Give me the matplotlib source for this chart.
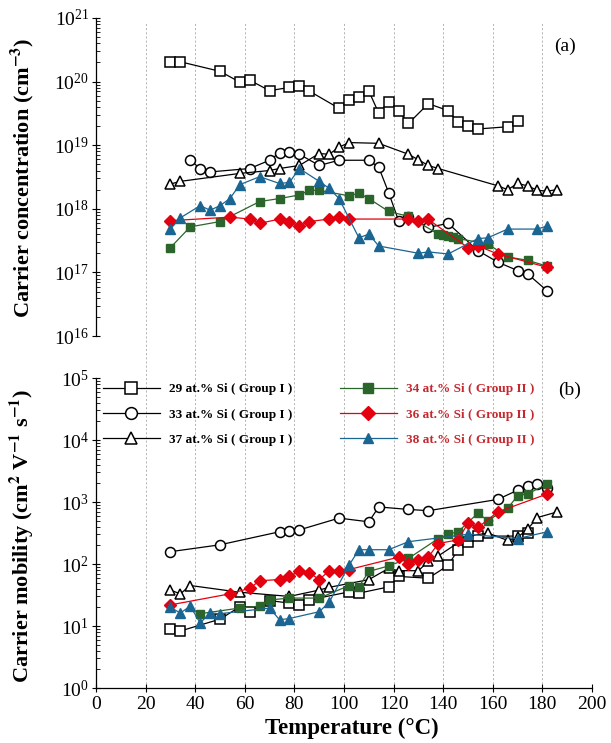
import matplotlib
matplotlib.use("Agg")
import matplotlib.pyplot as plt
from matplotlib.lines import Line2D
from matplotlib.ticker import LogLocator, FixedLocator, NullFormatter

plt.rcParams["font.family"] = ["Liberation Serif", "DejaVu Serif"]
plt.rcParams["mathtext.fontset"] = "stix"

# ---- carrier concentration (cm^-3) vs temperature (C) ----
t_n29 = [30, 34, 50, 58, 62, 70, 78, 82, 86, 98, 102, 106, 110, 114, 118, 122, 126, 134, 142, 146, 150, 154, 166, 170]
n29 = [2.0e20, 2.05e20, 1.45e20, 9.8e19, 1.05e20, 7.2e19, 8.1e19, 8.5e19, 7.1e19, 3.8e19, 5.1e19, 5.8e19,
       7.1e19, 3.2e19, 4.8e19, 3.5e19, 2.2e19, 4.5e19, 3.5e19, 2.3e19, 2.0e19, 1.8e19, 1.95e19, 2.4e19]

t_n33 = [38, 42, 46, 62, 70, 74, 78, 82, 90, 98, 110, 114, 118, 122, 126, 134, 142, 154, 162, 170, 174, 182]
n33 = [5.8e18, 4.3e18, 3.8e18, 4.3e18, 5.8e18, 7.6e18, 7.8e18, 7.2e18, 4.8e18, 5.8e18, 5.8e18, 4.5e18,
       1.8e18, 6.5e17, 7.4e17, 5.1e17, 5.9e17, 2.2e17, 1.45e17, 1.07e17, 9.5e16, 5.1e16]

t_n37 = [30, 34, 58, 70, 74, 82, 90, 94, 98, 102, 114, 126, 130, 134, 138, 162, 166, 170, 174, 178, 182, 186]
n37 = [2.45e18, 2.7e18, 3.6e18, 4.0e18, 4.3e18, 4.8e18, 7.4e18, 7.2e18, 9.3e18, 1.1e19, 1.07e19, 7.2e18,
       5.9e18, 4.8e18, 4.3e18, 2.3e18, 2.0e18, 2.5e18, 2.3e18, 1.95e18, 1.9e18, 2.0e18]

t_n34 = [30, 38, 50, 66, 74, 82, 86, 90, 102, 106, 110, 118, 126, 138, 140, 142, 144, 146, 158, 166, 174, 182]
n34 = [2.45e17, 5.2e17, 6.3e17, 1.3e18, 1.45e18, 1.65e18, 1.95e18, 1.95e18, 1.6e18, 1.75e18, 1.45e18, 9.1e17,
       7.6e17, 4.0e17, 3.9e17, 3.7e17, 3.6e17, 3.4e17, 2.8e17, 1.75e17, 1.55e17, 1.25e17]

t_n36 = [30, 54, 62, 66, 74, 78, 82, 86, 94, 98, 102, 126, 130, 134, 150, 154, 162, 182]
n36 = [6.5e17, 7.4e17, 6.9e17, 5.9e17, 6.9e17, 6.3e17, 5.4e17, 6.3e17, 6.9e17, 7.4e17, 6.9e17, 6.9e17,
       6.5e17, 6.8e17, 2.45e17, 2.6e17, 1.95e17, 1.2e17]

t_n38 = [30, 34, 42, 46, 50, 54, 58, 66, 74, 78, 82, 90, 94, 98, 106, 110, 114, 130, 134, 142, 154, 158, 166, 178, 182]
n38 = [4.8e17, 7.2e17, 1.12e18, 9.5e17, 1.12e18, 1.45e18, 2.4e18, 3.2e18, 2.5e18, 2.6e18, 4.3e18, 2.7e18,
       2.1e18, 1.45e18, 3.5e17, 4.0e17, 2.6e17, 2.0e17, 2.1e17, 1.95e17, 3.4e17, 3.5e17, 4.8e17, 4.8e17, 5.4e17]

# ---- carrier mobility (cm^2 V^-1 s^-1) vs temperature (C) ----
t_m29 = [30, 34, 50, 58, 62, 70, 78, 82, 86, 102, 106, 118, 122, 134, 142, 146, 150, 154, 170, 174]
m29 = [8.9, 8.3, 12.9, 20.4, 17, 25.7, 23.4, 21.9, 26.3, 35.5, 33.9, 42.7, 63, 59, 95, 170, 229, 282, 282, 316]

t_m33 = [30, 50, 74, 78, 82, 98, 110, 114, 126, 134, 162, 170, 174, 178, 182]
m33 = [158, 204, 331, 339, 355, 550, 479, 832, 759, 724, 1100, 1550, 1780, 1950, 1660]

t_m37 = [30, 34, 38, 58, 78, 90, 94, 110, 118, 122, 130, 134, 138, 150, 158, 166, 170, 174, 178, 186]
m37 = [38, 33, 45, 35, 30, 38, 42, 56, 85, 78, 78, 110, 135, 280, 316, 240, 270, 363, 562, 692]

t_m34 = [42, 58, 66, 70, 78, 90, 102, 106, 110, 118, 126, 138, 142, 146, 154, 158, 166, 170, 174, 182]
m34 = [15.8, 19.5, 20.9, 26.3, 28.2, 28.2, 44.7, 42.7, 75.9, 93, 123, 257, 302, 331, 661, 501, 794, 1260, 1350, 1950]

t_m36 = [30, 54, 62, 66, 74, 78, 82, 86, 90, 94, 98, 102, 122, 126, 130, 134, 138, 146, 150, 154, 162, 182]
m36 = [21.9, 33, 40.7, 53.7, 56.2, 63, 77.6, 72.4, 56.2, 77.6, 75.9, 81.3, 129, 100, 115, 129, 214, 245, 457,
       389, 692, 1350]

t_m38 = [30, 34, 38, 42, 46, 50, 70, 74, 78, 90, 94, 102, 106, 110, 118, 126, 150, 170, 182]
m38 = [20, 16.2, 20.9, 11.2, 16.2, 15.8, 19.5, 12.6, 13.2, 17, 24, 95, 170, 170, 170, 229, 302, 257, 331]

labels_g1 = ["29 at.% Si ( Group I )", "33 at.% Si ( Group I )", "37 at.% Si ( Group I )"]
labels_g2 = ["34 at.% Si ( Group II )", "36 at.% Si ( Group II )", "38 at.% Si ( Group II )"]
x_ticks = [0, 20, 40, 60, 80, 100, 120, 140, 160, 180, 200]

green = "#2b652b"
red = "#e3000f"
blue = "#1b6592"
label_red = "#c5282f"

open_kw = dict(color="black", markerfacecolor="white", markeredgecolor="black",
               markeredgewidth=1.1, linewidth=0.9)
styles_g1 = [dict(marker="s", markersize=7, **open_kw),
             dict(marker="o", markersize=7.2, **open_kw),
             dict(marker="^", markersize=7.5, **open_kw)]
styles_g2 = [
    dict(marker="s", color=green, markerfacecolor=green, markeredgecolor=green, linewidth=0.9, markersize=6.3),
    dict(marker="D", color=red, markerfacecolor=red, markeredgecolor=red, linewidth=0.9, markersize=5.8),
    dict(marker="^", color=blue, markerfacecolor=blue, markeredgecolor=blue, linewidth=0.9, markersize=6.8),
]

W, H = 611, 743
fig = plt.figure(figsize=(W / 100, H / 100), dpi=100)

x0, x1 = 96, 592
top_y0, top_y1 = 18, 336
bot_y0, bot_y1 = 378, 688


def frac_box(ya, yb):
    return [x0 / W, 1 - yb / H, (x1 - x0) / W, (yb - ya) / H]


# dashed vertical guides shared by both panels
ax_bg = fig.add_axes(frac_box(22, bot_y1), zorder=0)
ax_bg.set_xlim(0, 200)
ax_bg.set_ylim(0, 1)
ax_bg.axis("off")
for xv in x_ticks[1:]:
    ax_bg.axvline(xv, color="#a8a8a8", linewidth=0.6, linestyle=(0, (2.5, 2.5)))

ax_top = fig.add_axes(frac_box(top_y0, top_y1), zorder=1)
ax_bot = fig.add_axes(frac_box(bot_y0, bot_y1), zorder=1)

for t, v, st in zip([t_n29, t_n33, t_n37], [n29, n33, n37], styles_g1):
    ax_top.plot(t, v, **st)
for t, v, st in zip([t_n34, t_n36, t_n38], [n34, n36, n38], styles_g2):
    ax_top.plot(t, v, **st)

for t, v, st in zip([t_m29, t_m33, t_m37], [m29, m33, m37], styles_g1):
    ax_bot.plot(t, v, **st)
for t, v, st in zip([t_m34, t_m36, t_m38], [m34, m36, m38], styles_g2):
    ax_bot.plot(t, v, **st)

for ax, lo, hi in [(ax_top, 1e16, 1e21), (ax_bot, 1e0, 1e5)]:
    ax.patch.set_alpha(0)
    ax.set_xlim(0, 200)
    ax.set_yscale("log")
    ax.set_ylim(lo, hi)
    ax.yaxis.set_major_locator(LogLocator(base=10, numticks=10))
    ax.yaxis.set_minor_locator(LogLocator(base=10, subs=range(2, 10), numticks=20))
    ax.yaxis.set_minor_formatter(NullFormatter())
    ax.tick_params(axis="y", which="major", direction="inout", length=6, width=0.8, labelsize=14, pad=2)
    ax.tick_params(axis="y", which="minor", direction="in", length=3, width=0.6)
    for side in ["top", "right"]:
        ax.spines[side].set_visible(False)
    ax.spines["left"].set_linewidth(0.9)

ax_top.spines["bottom"].set_visible(False)
ax_top.tick_params(axis="x", bottom=False, labelbottom=False)

ax_bot.spines["bottom"].set_linewidth(0.9)
ax_bot.xaxis.set_major_locator(FixedLocator(x_ticks))
ax_bot.tick_params(axis="x", direction="inout", length=6, width=0.8, labelsize=14, pad=3)

ax_top.text(0.945, 0.91, "(a)", transform=ax_top.transAxes, fontsize=14, ha="center", va="center")
ax_bot.text(0.955, 0.96, "(b)", transform=ax_bot.transAxes, fontsize=14, ha="center", va="center")

fig.text(22 / W, 1 - 178 / H, r"Carrier concentration (cm$^{\mathbf{-3}}$)", rotation=90,
         fontsize=16, fontweight="bold", ha="center", va="center")
fig.text(22 / W, 1 - 536 / H, r"Carrier mobility (cm$^{\mathbf{2}}$ V$^{\mathbf{-1}}$ s$^{\mathbf{-1}}$)",
         rotation=90, fontsize=16, fontweight="bold", ha="center", va="center")
fig.text(352 / W, 1 - 728 / H, "Temperature (°C)", fontsize=16.5, fontweight="bold", ha="center", va="center")

# legends: Group I in black on the left, Group II on the right
leg_kw = dict(loc="upper left", bbox_transform=fig.transFigure, frameon=False, numpoints=1,
              handlelength=4.3, handletextpad=0.7, labelspacing=1.0, borderpad=0, borderaxespad=0,
              prop={"family": "Liberation Serif", "weight": "bold", "size": 9.5})
h1 = [Line2D([], [], **dict(st, markersize=8.5)) for st in styles_g1]
h2 = [Line2D([], [], **dict(st, markersize=st["markersize"] + 1)) for st in styles_g2]
leg1 = fig.legend(h1, labels_g1, bbox_to_anchor=(103 / W, 1 - 383 / H), **leg_kw)
leg2 = fig.legend(h2, labels_g2, bbox_to_anchor=(340 / W, 1 - 383 / H), **leg_kw)
for txt in leg2.get_texts():
    txt.set_color(label_red)

fig.savefig("out.png", dpi=100)
